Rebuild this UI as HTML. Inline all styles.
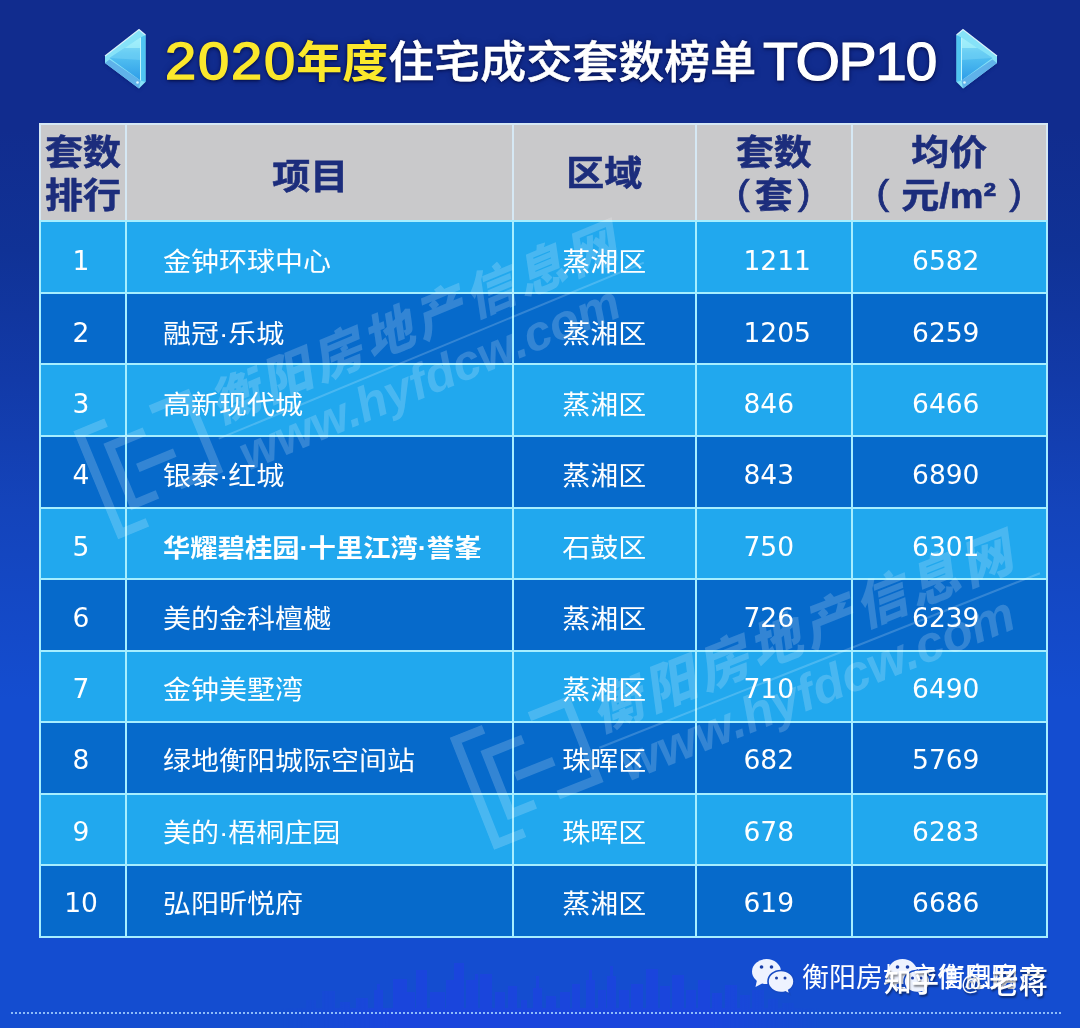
<!DOCTYPE html><html lang="zh-CN"><head><meta charset="utf-8"><title>2020年度住宅成交套数榜单TOP10</title><style>
*{margin:0;padding:0;box-sizing:border-box}
html,body{width:1080px;height:1028px;overflow:hidden}
body{position:relative;font-family:"Liberation Sans","Noto Sans CJK SC",sans-serif;
 background:linear-gradient(180deg,#112c8e 0,#112c8e 130px,#103296 250px,#123aa8 380px,#1444bb 510px,#144dd0 700px,#144dd0 100%);}
.abs{position:absolute}
.tt{position:absolute;top:26px;height:72px;line-height:72px;font-size:46px;color:#fff;white-space:nowrap;
 text-shadow:0 0 2px #0a1a5c,0 2px 3px rgba(5,15,70,.9),0 0 6px rgba(5,15,70,.6)}
.tt.y{color:#fbe82c;font-weight:700;transform:scaleY(.97)}
.tt.w{font-weight:500;-webkit-text-stroke:.6px #fff;transform:scaleY(.97)}
.tt.d{transform-origin:0 50%;transform:scaleX(1.1);font-size:51px;letter-spacing:1.6px;font-weight:400;color:#fbe82c;-webkit-text-stroke:1.4px #fbe82c}
.tt.t{transform-origin:0 50%;transform:scaleX(1.08);font-size:53px;letter-spacing:-1.4px;font-weight:400;-webkit-text-stroke:1.2px #fff}
.cell{position:absolute;display:flex;align-items:center;justify-content:center;color:#fff;font-size:28px;white-space:nowrap}
.hd{background:#c9c9cb;color:#1c2d7c;font-weight:700;font-size:38px;line-height:47px;text-align:center;-webkit-text-stroke:.6px #1c2d7c;padding-top:4px}
.hd b{font-weight:400;position:relative;top:-4px;-webkit-text-stroke:.8px #1c2d7c}
.hd .k{display:inline-block;transform:scaleY(.93)}
.lt{background:#21a8ee}
.dk{background:#066acb}
.proj{justify-content:flex-start;padding-left:37px}
.n{font-family:"DejaVu Sans","Liberation Sans",sans-serif;font-size:26.5px}
.rw{padding-top:7px}
.rw i{font-style:normal;display:inline-block;transform:scaleY(.92)}
.num{justify-content:flex-start}
.line{position:absolute;background:#a6eeff}
.wm{position:absolute;color:#fff;opacity:.18;transform-origin:0 0;transform:rotate(-22.5deg);white-space:nowrap;font-weight:900;font-style:italic;pointer-events:none}
.wm .a{font-size:50px;line-height:60px;letter-spacing:5px}
.wm .b{font-size:49px;line-height:50px;letter-spacing:0;margin-left:8px;font-family:"Liberation Sans",sans-serif;font-weight:700}
.foot{position:absolute;color:#fff;font-size:27px;line-height:40px;white-space:nowrap}
.zh{position:absolute;font-weight:500;color:#fff;font-size:31px;line-height:44px;white-space:nowrap;text-shadow:1px 2px 2px rgba(0,0,0,.45)}
.dots{position:absolute;left:11px;top:1012px;width:1052px;height:2px;
 background:repeating-linear-gradient(90deg,#8ebcf8 0,#8ebcf8 2px,transparent 2px,transparent 4px)}
</style></head><body>
<svg class="abs" style="left:0;top:940px" width="1080" height="88" viewBox="0 940 1080 88"><defs><linearGradient id="sk" x1="0" x2="1" y1="0" y2="0"><stop offset="0" stop-color="#2a5cf0" stop-opacity="0"/><stop offset=".3" stop-color="#2a5cf0" stop-opacity=".55"/><stop offset=".7" stop-color="#2a5cf0" stop-opacity=".55"/><stop offset="1" stop-color="#2a5cf0" stop-opacity="0"/></linearGradient><mask id="skm"><rect x="280" y="940" width="540" height="88" fill="url(#skw)"/></mask><linearGradient id="skw" x1="0" x2="1"><stop offset="0" stop-color="#000"/><stop offset=".2" stop-color="#fff"/><stop offset=".8" stop-color="#fff"/><stop offset="1" stop-color="#000"/></linearGradient></defs><g fill="#1b45de" opacity=".9" mask="url(#skm)"><rect x="306" y="1000" width="10" height="28"/><rect x="322" y="991" width="13" height="37"/><rect x="340" y="1002" width="10" height="26"/><rect x="356" y="998" width="12" height="30"/><rect x="374" y="990" width="9" height="38"/><rect x="377" y="984" width="3" height="44"/><rect x="393" y="979" width="14" height="49"/><rect x="407" y="992" width="8" height="36"/><rect x="416" y="970" width="11" height="58"/><rect x="430" y="992" width="15" height="36"/><rect x="446" y="980" width="11" height="48"/><rect x="454" y="963" width="10" height="65"/><rect x="466" y="980" width="11" height="48"/><rect x="475" y="974" width="3" height="54"/><rect x="480" y="974" width="12" height="54"/><rect x="495" y="992" width="10" height="36"/><rect x="508" y="986" width="9" height="42"/><rect x="521" y="1000" width="6" height="28"/><rect x="533" y="988" width="9" height="40"/><rect x="536" y="976" width="3" height="52"/><rect x="546" y="996" width="10" height="32"/><rect x="560" y="992" width="10" height="36"/><rect x="572" y="984" width="8" height="44"/><rect x="586" y="980" width="9" height="48"/><rect x="589" y="970" width="3" height="58"/><rect x="598" y="990" width="8" height="38"/><rect x="607" y="976" width="9" height="52"/><rect x="610" y="966" width="3" height="62"/><rect x="619" y="990" width="10" height="38"/><rect x="631" y="984" width="12" height="44"/><rect x="646" y="969" width="12" height="59"/><rect x="660" y="986" width="10" height="42"/><rect x="672" y="975" width="12" height="53"/><rect x="686" y="990" width="10" height="38"/><rect x="698" y="980" width="12" height="48"/><rect x="712" y="993" width="10" height="35"/><rect x="725" y="985" width="12" height="43"/><rect x="740" y="995" width="10" height="33"/><rect x="752" y="990" width="12" height="38"/><rect x="768" y="999" width="10" height="29"/><rect x="782" y="1003" width="12" height="25"/><rect x="280" y="1008" width="540" height="20"/></g></svg>
<svg class="abs" style="left:100px;top:24px" width="52" height="70" viewBox="100 24 52 70">
<defs><linearGradient id="g1" x1="0" y1="0" x2="0" y2="1"><stop offset="0" stop-color="#9deefa"/><stop offset=".35" stop-color="#58c6f2"/><stop offset="1" stop-color="#2e9de8"/></linearGradient>
<filter id="gb" x="-20%" y="-20%" width="140%" height="140%"><feGaussianBlur stdDeviation="1.6"/></filter></defs>
<polygon points="105,56 139,29.5 145.5,35 145.5,82 139,88.5 105,63" fill="#0a1f70" opacity=".55" filter="url(#gb)" transform="translate(0,1.5)"/>
<polygon points="105,56 139,29.5 145.5,35 145.5,82 139,88.5 105,63" fill="#86e2f8"/>
<polygon points="109.5,58 140.5,37.5 140.5,80.5" fill="url(#g1)"/>
<polygon points="140.5,37.5 140.5,48 124.6,48" fill="#a4f0fb" opacity=".8"/><polygon points="109.5,58 124.6,48 140.5,48 140.5,60" fill="#7fd6f6" opacity=".45"/>
<polygon points="140.5,37.5 145.5,35 145.5,82 140.5,80.5" fill="#4fc4f2"/>
<polygon points="105,63 139,88.5 140.5,80.5 109.5,59.5" fill="#5fb2ea"/><circle cx="137.500" cy="82.500" r="1.300" fill="#e8fbff" opacity=".9"/>
<polyline points="105,56 139,29.5 145.5,35" fill="none" stroke="#e8fbff" stroke-width="1.2" opacity=".9"/>
<line x1="140.5" y1="37.5" x2="140.5" y2="80.5" stroke="#bdf4fd" stroke-width="1"/>
</svg>
<svg class="abs" style="left:949.5px;top:24px;transform:scaleX(-1)" width="52" height="70" viewBox="100 24 52 70">
<defs><linearGradient id="g2" x1="0" y1="0" x2="0" y2="1"><stop offset="0" stop-color="#9deefa"/><stop offset=".35" stop-color="#58c6f2"/><stop offset="1" stop-color="#2e9de8"/></linearGradient>
<filter id="gb2" x="-20%" y="-20%" width="140%" height="140%"><feGaussianBlur stdDeviation="1.6"/></filter></defs>
<polygon points="105,56 139,29.5 145.5,35 145.5,82 139,88.5 105,63" fill="#0a1f70" opacity=".55" filter="url(#gb2)" transform="translate(0,1.5)"/>
<polygon points="105,56 139,29.5 145.5,35 145.5,82 139,88.5 105,63" fill="#86e2f8"/>
<polygon points="109.5,58 140.5,37.5 140.5,80.5" fill="url(#g2)"/>
<polygon points="140.5,37.5 140.5,48 124.6,48" fill="#a4f0fb" opacity=".8"/><polygon points="109.5,58 124.6,48 140.5,48 140.5,60" fill="#7fd6f6" opacity=".45"/>
<polygon points="140.5,37.5 145.5,35 145.5,82 140.5,80.5" fill="#4fc4f2"/>
<polygon points="105,63 139,88.5 140.5,80.5 109.5,59.5" fill="#5fb2ea"/><circle cx="137.500" cy="82.500" r="1.300" fill="#e8fbff" opacity=".9"/>
<polyline points="105,56 139,29.5 145.5,35" fill="none" stroke="#e8fbff" stroke-width="1.2" opacity=".9"/>
<line x1="140.5" y1="37.5" x2="140.5" y2="80.5" stroke="#bdf4fd" stroke-width="1"/>
</svg>
<div class="tt d" style="left:164.8px">2020</div><div class="tt y" style="left:296.3px">年度</div><div class="tt w" style="left:388.3px">住宅成交套数榜单</div><div class="tt t" style="left:762.6px">TOP10</div>
<div class="cell hd" style="left:40px;top:123.8px;width:86px;height:97.39999999999999px"><div><span class="k">套数<br>排行</span></div></div>
<div class="cell hd" style="left:126px;top:123.8px;width:386.5px;height:97.39999999999999px"><div><span class="k" style="position:relative;left:-9px;top:3px">项目</span></div></div>
<div class="cell hd" style="left:512.5px;top:123.8px;width:183.5px;height:97.39999999999999px"><div><span class="k">区域</span></div></div>
<div class="cell hd" style="left:696px;top:123.8px;width:155.5px;height:97.39999999999999px"><div><span class="k">套数<br><b>(</b><span style="margin:0 5px">套</span><b>)</b></span></div></div>
<div class="cell hd" style="left:851.5px;top:123.8px;width:195.5px;height:97.39999999999999px"><div><span class="k">均价<br><b>(</b><span style="margin:0 13px 0 12px">元/m²</span><b>)</b></span></div></div>
<div class="cell rw lt n" style="left:40px;top:221.2px;width:86px;height:71.57999999999998px;padding-right:4px;padding-top:8.00px;">1</div>
<div class="cell rw lt proj" style="left:126px;top:221.2px;width:386.5px;height:71.57999999999998px;padding-top:7.00px;"><i>金钟环球中心</i></div>
<div class="cell rw lt" style="left:512.5px;top:221.2px;width:183.5px;height:71.57999999999998px;padding-top:7.00px;"><i>蒸湘区</i></div>
<div class="cell rw lt n num" style="left:696px;top:221.2px;width:155.5px;height:71.57999999999998px;padding-left:47.5px;padding-top:8.00px;">1211</div>
<div class="cell rw lt n" style="left:851.5px;top:221.2px;width:195.5px;height:71.57999999999998px;padding-right:7px;padding-top:8.00px;">6582</div>
<div class="cell rw dk n" style="left:40px;top:292.78px;width:86px;height:71.58000000000004px;padding-right:4px;padding-top:7.40px;">2</div>
<div class="cell rw dk proj" style="left:126px;top:292.78px;width:386.5px;height:71.58000000000004px;padding-top:6.40px;"><i>融冠·乐城</i></div>
<div class="cell rw dk" style="left:512.5px;top:292.78px;width:183.5px;height:71.58000000000004px;padding-top:6.40px;"><i>蒸湘区</i></div>
<div class="cell rw dk n num" style="left:696px;top:292.78px;width:155.5px;height:71.58000000000004px;padding-left:47.5px;padding-top:7.40px;">1205</div>
<div class="cell rw dk n" style="left:851.5px;top:292.78px;width:195.5px;height:71.58000000000004px;padding-right:7px;padding-top:7.40px;">6259</div>
<div class="cell rw lt n" style="left:40px;top:364.36px;width:86px;height:71.57999999999998px;padding-right:4px;padding-top:6.80px;">3</div>
<div class="cell rw lt proj" style="left:126px;top:364.36px;width:386.5px;height:71.57999999999998px;padding-top:5.80px;"><i>高新现代城</i></div>
<div class="cell rw lt" style="left:512.5px;top:364.36px;width:183.5px;height:71.57999999999998px;padding-top:5.80px;"><i>蒸湘区</i></div>
<div class="cell rw lt n num" style="left:696px;top:364.36px;width:155.5px;height:71.57999999999998px;padding-left:47.5px;padding-top:6.80px;">846</div>
<div class="cell rw lt n" style="left:851.5px;top:364.36px;width:195.5px;height:71.57999999999998px;padding-right:7px;padding-top:6.80px;">6466</div>
<div class="cell rw dk n" style="left:40px;top:435.94px;width:86px;height:71.57999999999998px;padding-right:4px;padding-top:6.20px;">4</div>
<div class="cell rw dk proj" style="left:126px;top:435.94px;width:386.5px;height:71.57999999999998px;padding-top:5.20px;"><i>银泰·红城</i></div>
<div class="cell rw dk" style="left:512.5px;top:435.94px;width:183.5px;height:71.57999999999998px;padding-top:5.20px;"><i>蒸湘区</i></div>
<div class="cell rw dk n num" style="left:696px;top:435.94px;width:155.5px;height:71.57999999999998px;padding-left:47.5px;padding-top:6.20px;">843</div>
<div class="cell rw dk n" style="left:851.5px;top:435.94px;width:195.5px;height:71.57999999999998px;padding-right:7px;padding-top:6.20px;">6890</div>
<div class="cell rw lt n" style="left:40px;top:507.52px;width:86px;height:71.58000000000004px;padding-right:4px;padding-top:5.60px;">5</div>
<div class="cell rw lt proj" style="left:126px;top:507.52px;width:386.5px;height:71.58000000000004px;font-weight:700;font-size:27.3px;letter-spacing:0;padding-top:4.60px;"><i>华耀碧桂园·十里江湾·誉峯</i></div>
<div class="cell rw lt" style="left:512.5px;top:507.52px;width:183.5px;height:71.58000000000004px;padding-top:4.60px;"><i>石鼓区</i></div>
<div class="cell rw lt n num" style="left:696px;top:507.52px;width:155.5px;height:71.58000000000004px;padding-left:47.5px;padding-top:5.60px;">750</div>
<div class="cell rw lt n" style="left:851.5px;top:507.52px;width:195.5px;height:71.58000000000004px;padding-right:7px;padding-top:5.60px;">6301</div>
<div class="cell rw dk n" style="left:40px;top:579.1px;width:86px;height:71.57999999999993px;padding-right:4px;padding-top:5.00px;">6</div>
<div class="cell rw dk proj" style="left:126px;top:579.1px;width:386.5px;height:71.57999999999993px;padding-top:4.00px;"><i>美的金科檀樾</i></div>
<div class="cell rw dk" style="left:512.5px;top:579.1px;width:183.5px;height:71.57999999999993px;padding-top:4.00px;"><i>蒸湘区</i></div>
<div class="cell rw dk n num" style="left:696px;top:579.1px;width:155.5px;height:71.57999999999993px;padding-left:47.5px;padding-top:5.00px;">726</div>
<div class="cell rw dk n" style="left:851.5px;top:579.1px;width:195.5px;height:71.57999999999993px;padding-right:7px;padding-top:5.00px;">6239</div>
<div class="cell rw lt n" style="left:40px;top:650.68px;width:86px;height:71.58000000000004px;padding-right:4px;padding-top:4.40px;">7</div>
<div class="cell rw lt proj" style="left:126px;top:650.68px;width:386.5px;height:71.58000000000004px;padding-top:3.40px;"><i>金钟美墅湾</i></div>
<div class="cell rw lt" style="left:512.5px;top:650.68px;width:183.5px;height:71.58000000000004px;padding-top:3.40px;"><i>蒸湘区</i></div>
<div class="cell rw lt n num" style="left:696px;top:650.68px;width:155.5px;height:71.58000000000004px;padding-left:47.5px;padding-top:4.40px;">710</div>
<div class="cell rw lt n" style="left:851.5px;top:650.68px;width:195.5px;height:71.58000000000004px;padding-right:7px;padding-top:4.40px;">6490</div>
<div class="cell rw dk n" style="left:40px;top:722.26px;width:86px;height:71.58000000000004px;padding-right:4px;padding-top:3.80px;">8</div>
<div class="cell rw dk proj" style="left:126px;top:722.26px;width:386.5px;height:71.58000000000004px;padding-top:2.80px;"><i>绿地衡阳城际空间站</i></div>
<div class="cell rw dk" style="left:512.5px;top:722.26px;width:183.5px;height:71.58000000000004px;padding-top:2.80px;"><i>珠晖区</i></div>
<div class="cell rw dk n num" style="left:696px;top:722.26px;width:155.5px;height:71.58000000000004px;padding-left:47.5px;padding-top:3.80px;">682</div>
<div class="cell rw dk n" style="left:851.5px;top:722.26px;width:195.5px;height:71.58000000000004px;padding-right:7px;padding-top:3.80px;">5769</div>
<div class="cell rw lt n" style="left:40px;top:793.84px;width:86px;height:71.57999999999993px;padding-right:4px;padding-top:3.20px;">9</div>
<div class="cell rw lt proj" style="left:126px;top:793.84px;width:386.5px;height:71.57999999999993px;padding-top:2.20px;"><i>美的·梧桐庄园</i></div>
<div class="cell rw lt" style="left:512.5px;top:793.84px;width:183.5px;height:71.57999999999993px;padding-top:2.20px;"><i>珠晖区</i></div>
<div class="cell rw lt n num" style="left:696px;top:793.84px;width:155.5px;height:71.57999999999993px;padding-left:47.5px;padding-top:3.20px;">678</div>
<div class="cell rw lt n" style="left:851.5px;top:793.84px;width:195.5px;height:71.57999999999993px;padding-right:7px;padding-top:3.20px;">6283</div>
<div class="cell rw dk n" style="left:40px;top:865.42px;width:86px;height:71.58000000000004px;padding-right:4px;padding-top:2.60px;">10</div>
<div class="cell rw dk proj" style="left:126px;top:865.42px;width:386.5px;height:71.58000000000004px;padding-top:1.60px;"><i>弘阳昕悦府</i></div>
<div class="cell rw dk" style="left:512.5px;top:865.42px;width:183.5px;height:71.58000000000004px;padding-top:1.60px;"><i>蒸湘区</i></div>
<div class="cell rw dk n num" style="left:696px;top:865.42px;width:155.5px;height:71.58000000000004px;padding-left:47.5px;padding-top:2.60px;">619</div>
<div class="cell rw dk n" style="left:851.5px;top:865.42px;width:195.5px;height:71.58000000000004px;padding-right:7px;padding-top:2.60px;">6686</div>
<div class="line" style="left:39px;top:122.8px;width:2px;height:98.39999999999999px;background:#d6e8f4"></div>
<div class="line" style="left:39px;top:220.2px;width:2px;height:717.8px"></div>
<div class="line" style="left:125px;top:122.8px;width:2px;height:98.39999999999999px;background:#d6e8f4"></div>
<div class="line" style="left:125px;top:220.2px;width:2px;height:717.8px"></div>
<div class="line" style="left:511.5px;top:122.8px;width:2px;height:98.39999999999999px;background:#d6e8f4"></div>
<div class="line" style="left:511.5px;top:220.2px;width:2px;height:717.8px"></div>
<div class="line" style="left:695px;top:122.8px;width:2px;height:98.39999999999999px;background:#d6e8f4"></div>
<div class="line" style="left:695px;top:220.2px;width:2px;height:717.8px"></div>
<div class="line" style="left:850.5px;top:122.8px;width:2px;height:98.39999999999999px;background:#d6e8f4"></div>
<div class="line" style="left:850.5px;top:220.2px;width:2px;height:717.8px"></div>
<div class="line" style="left:1046px;top:122.8px;width:2px;height:98.39999999999999px;background:#d6e8f4"></div>
<div class="line" style="left:1046px;top:220.2px;width:2px;height:717.8px"></div>
<div class="line" style="left:39px;top:122.8px;width:1009px;height:2px;background:#d6e8f4"></div>
<div class="line" style="left:39px;top:220.20px;width:1009px;height:2px"></div>
<div class="line" style="left:39px;top:291.78px;width:1009px;height:2px"></div>
<div class="line" style="left:39px;top:363.36px;width:1009px;height:2px"></div>
<div class="line" style="left:39px;top:434.94px;width:1009px;height:2px"></div>
<div class="line" style="left:39px;top:506.52px;width:1009px;height:2px"></div>
<div class="line" style="left:39px;top:578.10px;width:1009px;height:2px"></div>
<div class="line" style="left:39px;top:649.68px;width:1009px;height:2px"></div>
<div class="line" style="left:39px;top:721.26px;width:1009px;height:2px"></div>
<div class="line" style="left:39px;top:792.84px;width:1009px;height:2px"></div>
<div class="line" style="left:39px;top:864.42px;width:1009px;height:2px"></div>
<div class="line" style="left:39px;top:936.00px;width:1009px;height:2px"></div>
<div class="wm" style="left:201px;top:380px;transform:rotate(-22.5deg)"><svg width="126" height="118" viewBox="0 0 126 118" style="position:absolute;left:-138px;top:-2px" fill="none" stroke="#fff" stroke-width="9"><path d="M34 5H5V113H34"/><path d="M66 28H28V91H54M46 59H86M80 10H119V91H78"/></svg><div class="a">衡阳房地产信息网</div><div style="position:absolute;left:-6px;top:60px;width:460px;height:2px;background:#fff"></div><div class="b">www.hyfdcw.com</div></div>
<div class="wm" style="left:582px;top:687px;transform:rotate(-21.6deg) scale(1.03)"><svg width="126" height="118" viewBox="0 0 126 118" style="position:absolute;left:-138px;top:-2px" fill="none" stroke="#fff" stroke-width="9"><path d="M34 5H5V113H34"/><path d="M66 28H28V91H54M46 59H86M80 10H119V91H78"/></svg><div class="a">衡阳房地产信息网</div><div style="position:absolute;left:-6px;top:60px;width:460px;height:2px;background:#fff"></div><div class="b">www.hyfdcw.com</div></div>
<svg class="abs" style="left:751px;top:956px" width="46" height="42" viewBox="0 0 46 42"><g fill="#eef3ff">
<ellipse cx="15.5" cy="15.5" rx="14.5" ry="12.5"/><path d="M6 24 L4.5 31 L12 27Z"/></g>
<g fill="#eef3ff" stroke="#154ac4" stroke-width="1.6"><path d="M30 14.5c-7.2 0-13 4.9-13 11s5.800 11 13 11c1.500 0 3-.2 4.300-.6l4.700 2.600-1.200-4.300c3.200-2 5.200-5.100 5.200-8.700 0-6.100-5.800-11-13-11z"/></g>
<g fill="#1a3fa8"><circle cx="10.500" cy="11" r="1.800"/><circle cx="20.500" cy="11" r="1.800"/><circle cx="25.500" cy="22" r="1.500"/><circle cx="34" cy="22" r="1.500"/></g></svg>
<div class="foot" style="left:802px;top:958px">衡阳房地产信息网</div>
<svg class="abs" style="left:887px;top:956px" width="46" height="42" viewBox="0 0 46 42"><g fill="#eef3ff">
<ellipse cx="15.5" cy="15.5" rx="14.5" ry="12.5"/><path d="M6 24 L4.5 31 L12 27Z"/></g>
<g fill="#eef3ff" stroke="#154ac4" stroke-width="1.6"><path d="M30 14.5c-7.2 0-13 4.9-13 11s5.800 11 13 11c1.500 0 3-.2 4.300-.6l4.700 2.600-1.200-4.300c3.200-2 5.200-5.100 5.200-8.700 0-6.100-5.800-11-13-11z"/></g>
<g fill="#1a3fa8"><circle cx="10.500" cy="11" r="1.800"/><circle cx="20.500" cy="11" r="1.800"/><circle cx="25.500" cy="22" r="1.500"/><circle cx="34" cy="22" r="1.500"/></g></svg>
<div class="foot" style="left:938px;top:958px">衡阳房产</div>
<div class="zh" style="left:884px;top:961px;font-size:27.5px">知乎</div><div class="zh" style="left:961px;top:961px;font-size:20px">@</div><div class="zh" style="left:989px;top:961px;font-size:29.5px">老蒋</div>
<div class="dots"></div>
</body></html>
